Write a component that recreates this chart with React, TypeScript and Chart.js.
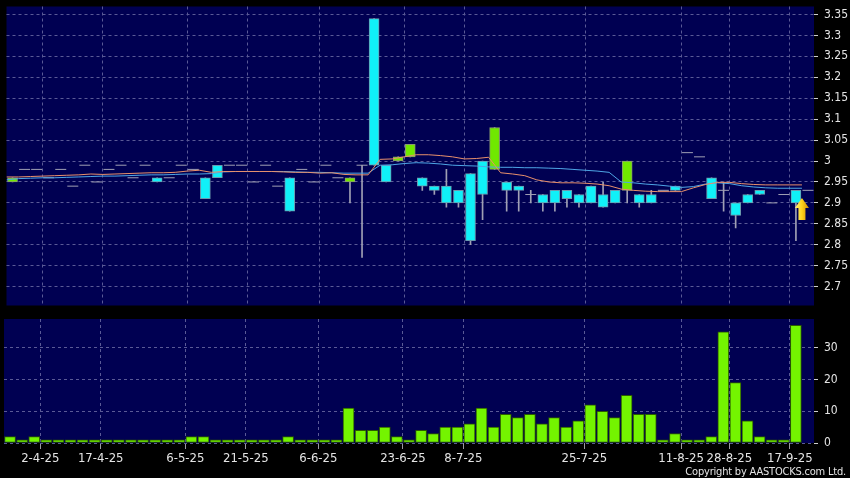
import React, { useEffect, useRef } from 'react';
import { Chart, registerables } from 'chart.js';

Chart.register(...registerables);

// ---------- data ----------
const opens = [
  2.96, 2.98, 2.98, 2.96, 2.98, 2.94, 2.99, 2.95, 2.98, 2.99,
  2.96, 2.99, 2.95, 2.96, 2.99, 2.98, 2.91, 2.96, 2.99, 2.99,
  2.95, 2.99, 2.94, 2.88, 2.98, 2.95, 2.99, 2.96, 2.96, 2.99,
  2.99, 2.95, 3.01, 3.04, 2.94, 2.93, 2.90, 2.90, 2.81, 2.92,
  3.08, 2.93, 2.93, 2.92, 2.90, 2.90, 2.91, 2.90, 2.90, 2.89,
  2.90, 3.00, 2.90, 2.90, 2.93, 2.93, 3.02, 3.01, 2.91, 2.93,
  2.87, 2.90, 2.92, 2.90, 2.92, 2.90,
];
const highs = [
  2.96, 2.98, 2.98, 2.96, 2.98, 2.94, 2.99, 2.95, 2.98, 2.99,
  2.96, 2.99, 2.96, 2.96, 2.99, 2.98, 2.96, 2.99, 2.99, 2.99,
  2.95, 2.99, 2.94, 2.96, 2.98, 2.95, 2.99, 2.96, 2.96, 2.99,
  3.34, 2.99, 3.01, 3.04, 2.96, 2.94, 2.98, 2.93, 2.97, 3.00,
  3.08, 2.95, 2.94, 2.93, 2.92, 2.93, 2.93, 2.92, 2.94, 2.95,
  2.93, 3.00, 2.92, 2.93, 2.93, 2.94, 3.02, 3.01, 2.96, 2.95,
  2.90, 2.92, 2.93, 2.90, 2.92, 2.93,
];
const lows = [
  2.95, 2.98, 2.98, 2.96, 2.98, 2.94, 2.99, 2.95, 2.98, 2.99,
  2.96, 2.99, 2.95, 2.96, 2.99, 2.98, 2.91, 2.96, 2.99, 2.99,
  2.95, 2.99, 2.94, 2.88, 2.98, 2.95, 2.99, 2.96, 2.90, 2.77,
  2.99, 2.95, 3.00, 3.01, 2.93, 2.92, 2.89, 2.89, 2.80, 2.86,
  2.98, 2.88, 2.88, 2.90, 2.88, 2.88, 2.89, 2.89, 2.90, 2.89,
  2.90, 2.90, 2.89, 2.90, 2.93, 2.93, 3.02, 3.01, 2.91, 2.88,
  2.84, 2.90, 2.92, 2.90, 2.92, 2.81,
];
const closes = [
  2.95, 2.98, 2.98, 2.96, 2.98, 2.94, 2.99, 2.95, 2.98, 2.99,
  2.96, 2.99, 2.96, 2.96, 2.99, 2.98, 2.96, 2.99, 2.99, 2.99,
  2.95, 2.99, 2.94, 2.96, 2.98, 2.95, 2.99, 2.96, 2.95, 2.99,
  3.34, 2.99, 3.00, 3.01, 2.96, 2.94, 2.94, 2.93, 2.97, 3.00,
  2.98, 2.95, 2.94, 2.92, 2.92, 2.93, 2.93, 2.92, 2.94, 2.92,
  2.93, 2.93, 2.92, 2.92, 2.93, 2.94, 3.02, 3.01, 2.96, 2.93,
  2.90, 2.92, 2.93, 2.90, 2.92, 2.93,
];
const volumes = [
  2, 1, 2, 1, 1, 1, 1, 1, 1, 1,
  1, 1, 1, 1, 1, 2, 2, 1, 1, 1,
  1, 1, 1, 2, 1, 1, 1, 1, 11, 4,
  4, 5, 2, 1, 4, 3, 5, 5, 6, 11,
  5, 9, 8, 9, 6, 8, 5, 7, 12, 10,
  8, 15, 9, 9, 1, 3, 1, 1, 2, 35,
  19, 7, 2, 1, 1, 37,
];
// moving averages, first value belongs to the day before the first candle
const ma10 = [
  2.962, 2.962, 2.963, 2.964, 2.965, 2.966, 2.967, 2.969, 2.968, 2.969,
  2.970, 2.971, 2.972, 2.972, 2.973, 2.976, 2.978, 2.973, 2.975, 2.975,
  2.975, 2.975, 2.975, 2.974, 2.973, 2.973, 2.971, 2.972, 2.968, 2.967,
  2.967, 3.004, 3.005, 3.010, 3.015, 3.015, 3.013, 3.010, 3.005, 3.006,
  3.009, 2.972, 2.969, 2.965, 2.955, 2.950, 2.948, 2.948, 2.947, 2.945,
  2.941, 2.933, 2.930, 2.928, 2.927, 2.927, 2.927, 2.936, 2.944, 2.949,
  2.949, 2.946, 2.944, 2.943, 2.943, 2.943, 2.943,
];
const ma20 = [
  2.955, 2.958, 2.959, 2.960, 2.960, 2.961, 2.962, 2.963, 2.964, 2.964,
  2.965, 2.966, 2.967, 2.967, 2.968, 2.969, 2.969, 2.970, 2.974, 2.975,
  2.975, 2.975, 2.975, 2.975, 2.974, 2.973, 2.973, 2.972, 2.971, 2.971,
  2.971, 2.990, 2.991, 2.994, 2.996, 2.995, 2.993, 2.990, 2.989, 2.988,
  2.986, 2.985, 2.985, 2.984, 2.984, 2.983, 2.982, 2.980, 2.978, 2.976,
  2.973, 2.950, 2.948, 2.945, 2.943, 2.940, 2.937, 2.939, 2.945, 2.948,
  2.946, 2.941, 2.938, 2.936, 2.935, 2.935, 2.935,
];
const dateTickIndex = [2, 7, 14, 19, 25, 32, 37, 47, 55, 59, 64];
const dateTickLabels = ['2-4-25', '17-4-25', '6-5-25', '21-5-25', '6-6-25', '23-6-25', '8-7-25', '25-7-25', '11-8-25', '28-8-25', '17-9-25'];
const priceTicks = [2.7, 2.75, 2.8, 2.85, 2.9, 2.95, 3.0, 3.05, 3.1, 3.15, 3.2, 3.25, 3.3, 3.35];
const priceTickLabels = ['2.7', '2.75', '2.8', '2.85', '2.9', '2.95', '3', '3.05', '3.1', '3.15', '3.2', '3.25', '3.3', '3.35'];
const volumeTicks = [0, 10, 20, 30];
const volumeTickLabels = ['0', '10', '20', '30'];
const lastPrice = 2.93;
const markerIndex = 65;
const markerPrice = 2.912;
const copyright = 'Copyright by AASTOCKS.com Ltd.';

// ---------- styles ----------
const SLOTS = 67;
const FONT = "'DejaVu Sans Condensed', 'DejaVu Sans', sans-serif";
const NAVY = '#000052';
const GRID = '#5a5a96';
const UP = '#10f0f8';
const DOWN = '#70e800';
const WICK = '#a0a0b4';
const VOL = '#74f400';
const TEXT = '#e4e4e4';

const bgPlugin = {
  id: 'navyBg',
  beforeDraw(chart: any) {
    const { ctx, chartArea } = chart;
    ctx.save();
    ctx.fillStyle = NAVY;
    ctx.fillRect(chartArea.left, chartArea.top, chartArea.right - chartArea.left, chartArea.bottom - chartArea.top);
    ctx.restore();
  },
};

const arrowPlugin = {
  id: 'arrowMarker',
  afterDatasetsDraw(chart: any) {
    const { ctx, scales } = chart;
    const px = scales.x.getPixelForValue(markerIndex + 0.5);
    const py = scales.y.getPixelForValue(markerPrice);
    ctx.save();
    ctx.beginPath();
    ctx.moveTo(px, py);
    ctx.lineTo(px + 7, py + 10);
    ctx.lineTo(px + 3.5, py + 10);
    ctx.lineTo(px + 3.5, py + 22);
    ctx.lineTo(px - 3.5, py + 22);
    ctx.lineTo(px - 3.5, py + 10);
    ctx.lineTo(px - 7, py + 10);
    ctx.closePath();
    const g = ctx.createLinearGradient(px - 7, 0, px + 7, 0);
    g.addColorStop(0, '#fff07a');
    g.addColorStop(0.5, '#ffd21a');
    g.addColorStop(1, '#d08a00');
    ctx.fillStyle = g;
    ctx.fill();
    ctx.restore();
  },
};

function xAxis(showLabels: boolean) {
  return {
    type: 'linear',
    min: -0.5,
    max: SLOTS - 0.5,
    offset: false,
    afterBuildTicks: (s: any) => {
      s.ticks = dateTickIndex.map((i) => ({ value: i + 0.5 }));
    },
    afterFit: (s: any) => {
      s.height = showLabels ? 35 : 0;
      s.paddingLeft = 0;
      s.paddingRight = 0;
    },
    grid: {
      color: GRID,
      offset: false,
      drawTicks: showLabels,
      tickLength: 6,
      tickColor: '#9a9aa0',
      tickBorderDash: [],
    },
    border: { display: false, dash: [3, 3] },
    ticks: {
      display: showLabels,
      autoSkip: false,
      maxRotation: 0,
      minRotation: 0,
      padding: 2,
      color: TEXT,
      font: { size: 13, family: FONT },
      callback: (_v: any, i: number) => dateTickLabels[i],
    },
  };
}

function yAxis(min: number, max: number, ticks: number[], labels: string[]) {
  return {
    type: 'linear',
    position: 'right',
    min,
    max,
    afterBuildTicks: (s: any) => {
      s.ticks = ticks.map((v) => ({ value: v }));
    },
    afterFit: (s: any) => {
      s.width = 36;
      s.paddingTop = 0;
      s.paddingBottom = 0;
    },
    grid: {
      color: GRID,
      drawTicks: true,
      tickLength: 4,
      tickColor: '#cfcfcf',
      tickBorderDash: [],
    },
    border: { display: false, dash: [3, 3] },
    ticks: {
      padding: 6,
      color: TEXT,
      font: { size: 12, family: FONT },
      callback: (_v: any, i: number) => labels[i],
    },
  };
}

export default function App() {
  const priceRef = useRef<HTMLCanvasElement>(null);
  const volRef = useRef<HTMLCanvasElement>(null);

  useEffect(() => {
    const idx = opens.map((_, i) => i);
    const wickData = idx.filter((i) => highs[i] > lows[i]).map((i) => ({ x: i, y: [lows[i], highs[i]] }));
    const bodyIdx = idx.filter((i) => opens[i] !== closes[i]);
    const bodyData = bodyIdx.map((i) => ({ x: i, y: [opens[i], closes[i]] }));
    const bodyColors = bodyIdx.map((i) => (closes[i] > opens[i] ? UP : DOWN));
    const bodyBorders = bodyIdx.map((i) => (closes[i] > opens[i] ? '#6a9aae' : '#8a9a70'));
    const dashData = idx.filter((i) => opens[i] === closes[i]).map((i) => ({ x: i, y: closes[i] }));
    dashData.push({ x: SLOTS - 1, y: lastPrice });
    const ma10Data = ma10.map((v, k) => ({ x: k - 0.5, y: v }));
    const ma20Data = ma20.map((v, k) => ({ x: k - 0.5, y: v }));

    const price = new Chart(priceRef.current!, {
      type: 'bar',
      data: {
        datasets: [
          {
            type: 'line',
            data: ma10Data,
            borderColor: '#e8906c',
            borderWidth: 1,
            pointRadius: 0,
            tension: 0,
            order: 0,
          } as any,
          {
            type: 'line',
            data: ma20Data,
            borderColor: '#4ea6e6',
            borderWidth: 1,
            pointRadius: 0,
            tension: 0,
            order: 0,
          } as any,
          {
            type: 'line',
            data: dashData,
            showLine: false,
            pointStyle: 'line',
            pointRadius: 5.5,
            pointBorderWidth: 1,
            borderColor: WICK,
            backgroundColor: WICK,
            order: 2,
          } as any,
          {
            type: 'bar',
            data: bodyData,
            backgroundColor: bodyColors,
            borderColor: bodyBorders,
            borderWidth: 1,
            borderSkipped: false,
            barThickness: 10,
            grouped: false,
            order: 1,
          } as any,
          {
            type: 'bar',
            data: wickData,
            backgroundColor: WICK,
            borderWidth: 0,
            barThickness: 1,
            grouped: false,
            order: 3,
          } as any,
        ],
      },
      options: {
        responsive: false,
        animation: false,
        devicePixelRatio: 1,
        layout: { padding: { left: 4, top: 6, right: 0, bottom: 6 } },
        plugins: { legend: { display: false }, tooltip: { enabled: false } },
        scales: {
          x: xAxis(false) as any,
          y: yAxis(2.655, 3.369, priceTicks, priceTickLabels) as any,
        },
      },
      plugins: [bgPlugin, arrowPlugin],
    });

    const vol = new Chart(volRef.current!, {
      type: 'bar',
      data: {
        datasets: [
          {
            data: volumes.map((v, i) => ({ x: i, y: v })),
            backgroundColor: VOL,
            borderColor: '#2c5a00',
            borderWidth: 1,
            borderSkipped: false,
            barThickness: 11,
            grouped: false,
          } as any,
        ],
      },
      options: {
        responsive: false,
        animation: false,
        devicePixelRatio: 1,
        layout: { padding: { left: 4, top: 7, right: 0, bottom: 0 } },
        plugins: { legend: { display: false }, tooltip: { enabled: false } },
        scales: {
          x: xAxis(true) as any,
          y: yAxis(0, 39, volumeTicks, volumeTickLabels) as any,
        },
      },
      plugins: [bgPlugin],
    });

    return () => {
      price.destroy();
      vol.destroy();
    };
  }, []);

  return (
    <div style={{ position: 'fixed', left: 0, top: 0, width: 850, height: 478, background: '#000', overflow: 'hidden' }}>
      <canvas ref={priceRef} width={850} height={312} style={{ position: 'absolute', left: 0, top: 0 }} />
      <canvas ref={volRef} width={850} height={166} style={{ position: 'absolute', left: 0, top: 312 }} />
      <div
        style={{
          position: 'absolute',
          right: 4,
          top: 466,
          color: TEXT,
          fontFamily: FONT,
          fontSize: 11,
          letterSpacing: '-0.2px',
          lineHeight: '11px',
          whiteSpace: 'nowrap',
        }}
      >
        {copyright}
      </div>
    </div>
  );
}
